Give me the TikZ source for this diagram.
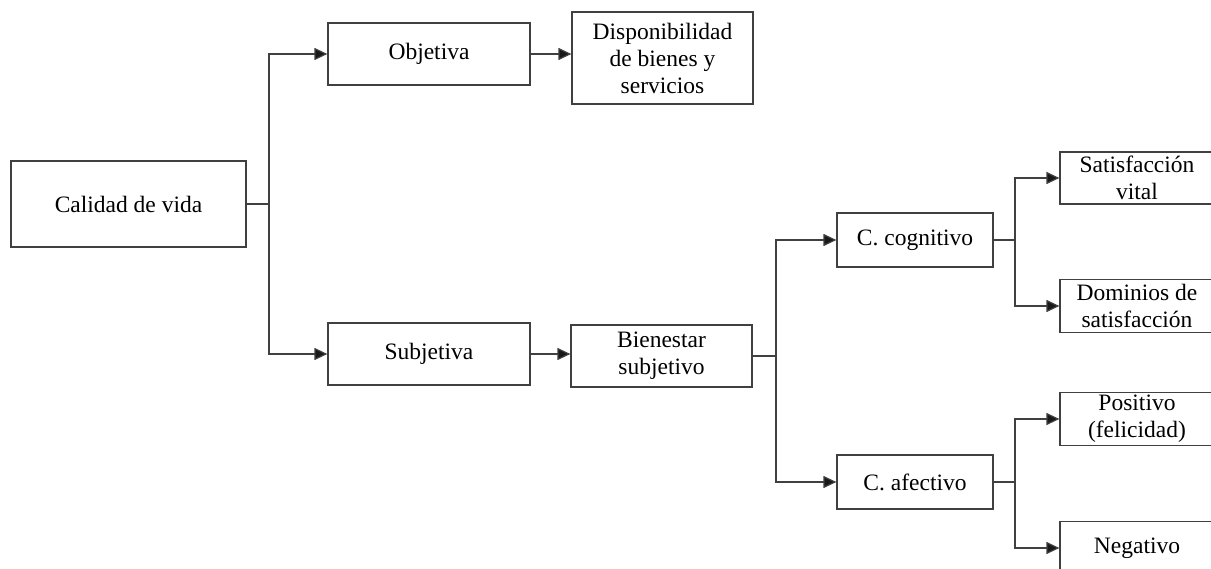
\documentclass[tikz,border=0pt]{standalone}
\usepackage{fontspec}
\setmainfont{Liberation Serif}
\usetikzlibrary{arrows.meta}

\begin{document}
\begin{tikzpicture}[x=1pt,y=-1pt,
    font=\fontsize{23.5}{27}\selectfont,
    box/.style={draw=black!75,line width=1.2pt,align=center,inner sep=0pt},
    link/.style={draw=black!75,line width=1.2pt},
    arr/.style={link,-{Triangle[length=13pt,width=12pt,fill=black!90]}}]
         \clip (0,0) rectangle (1211,569);
         % boxes
         \node[box,name=cal,minimum width=235,minimum height=86] at (128.5,204) {Calidad de vida};
         \node[box,name=obj,minimum width=202,minimum height=62] at (429,54) {Objetiva};
         \node[box,name=disp,minimum width=181,minimum height=92] at (662.5,58) {Disponibilidad\\de bienes y\\servicios};
         \node[box,name=subj,minimum width=202,minimum height=62] at (429,354) {Subjetiva};
         \node[box,name=bien,minimum width=181,minimum height=62] at (661.5,356) {Bienestar\\subjetivo};
         \node[box,name=cog,minimum width=156,minimum height=54] at (915,240) {C. cognitivo};
         \node[box,name=afe,minimum width=156,minimum height=54] at (915,482) {C. afectivo};
         \node[box,name=sat,minimum width=154,minimum height=52] at (1137,178) {Satisfacción\\vital};
         \node[box,name=dom,minimum width=154,minimum height=53] at (1137,306) {Dominios de\\satisfacción};
         \node[box,name=pos,minimum width=154,minimum height=53] at (1137,419) {Positivo\\(felicidad)};
         \node[box,name=neg,minimum width=154,minimum height=53] at (1137,548) {Negativo};

         % junctions
         \coordinate (j1) at (269,204);
         \coordinate (j2) at (776,356);
         \coordinate (j3) at (1015,240);
         \coordinate (j4) at (1015,482);

         \draw[link] (cal) -- (j1);
         \draw[arr] (j1) |- (obj);
         \draw[arr] (j1) |- (subj);
         \draw[arr] (obj) -- (obj -| disp.west);
         \draw[arr] (subj) -- (subj -| bien.west);
         \draw[link] (bien) -- (j2);
         \draw[arr] (j2) |- (cog);
         \draw[arr] (j2) |- (afe);
         \draw[link] (cog) -- (j3);
         \draw[arr] (j3) |- (sat);
         \draw[arr] (j3) |- (dom);
         \draw[link] (afe) -- (j4);
         \draw[arr] (j4) |- (pos);
         \draw[arr] (j4) |- (neg);
\end{tikzpicture}
\end{document}
